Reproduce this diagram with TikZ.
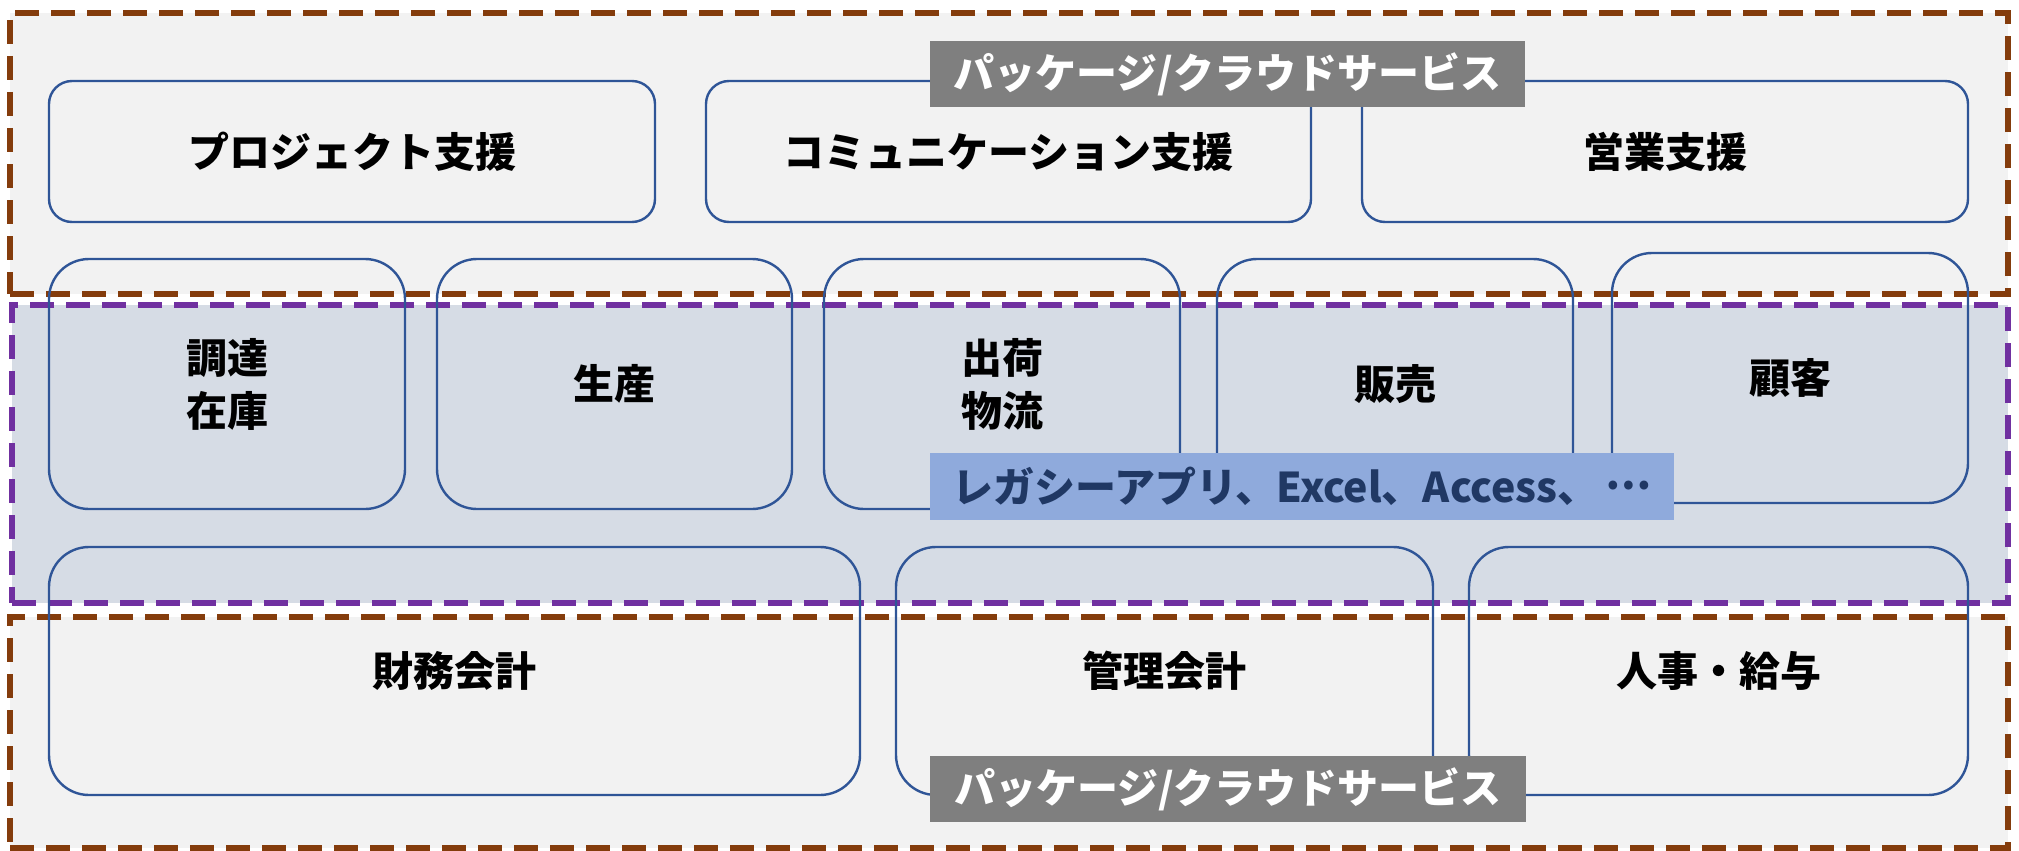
\documentclass[tikz,border=0pt]{standalone}
\usepackage{fontspec}
\setmainfont{Noto Sans CJK JP}
\definecolor{brownline}{HTML}{843C0C}
\definecolor{purpleline}{HTML}{7030A0}
\definecolor{graybg}{HTML}{F2F2F2}
\definecolor{bluebg}{HTML}{D6DCE5}
\definecolor{boxblue}{HTML}{2F5597}
\definecolor{labelgray}{HTML}{7F7F7F}
\definecolor{labelblue}{HTML}{8FAADC}
\definecolor{navytext}{HTML}{203864}
\tikzset{
  region/.style={draw=#1, line width=6pt, dash pattern=on 24pt off 12pt, inner sep=0pt},
  boxbase/.style={draw=boxblue, line width=2.4pt, inner sep=0pt, align=center,
    font=\fontsize{41}{53}\selectfont\bfseries},
  topbox/.style={boxbase, rounded corners=23pt},
  bigbox/.style={boxbase, rounded corners=40pt},
  tag/.style={inner sep=0pt, font=\fontsize{41}{48}\selectfont\bfseries}
}
\begin{document}
\begin{tikzpicture}[x=1pt,y=-1pt]
\useasboundingbox (0,0) rectangle (2019,851);
\fill[white] (0,0) rectangle (2019,851);
% regions
\node[region=brownline, fill=graybg, minimum width=1998pt, minimum height=281pt] (toparea) at (1009,153.5) {};
\node[region=purpleline, fill=bluebg, minimum width=1996pt, minimum height=298pt] (midarea) at (1010,454) {};
\node[region=brownline, fill=graybg, minimum width=1998pt, minimum height=231pt] (botarea) at (1009,732.5) {};
% top row
\node[topbox, minimum width=606pt, minimum height=141pt] (pj) at (352,151.5) {プロジェクト支援};
\node[topbox, minimum width=605pt, minimum height=141pt] (comm) at (1008.5,151.5) {コミュニケーション支援};
\node[topbox, minimum width=606pt, minimum height=141pt] (sales) at (1665,151.5) {営業支援};
% middle row
\node[bigbox, minimum width=356pt, minimum height=250pt] (chotatsu) at (227,384) {調達\\在庫};
\node[bigbox, minimum width=355pt, minimum height=250pt] (seisan) at (614.5,384) {生産};
\node[bigbox, minimum width=356pt, minimum height=250pt] (shukka) at (1002,384) {出荷\\物流};
\node[bigbox, minimum width=356pt, minimum height=250pt] (hanbai) at (1395,384) {販売};
\node[bigbox, minimum width=356pt, minimum height=250pt] (kokyaku) at (1790,378) {顧客};
% bottom row
\node[bigbox, minimum width=811pt, minimum height=248pt] (zaimu) at (454.5,671) {財務会計};
\node[bigbox, minimum width=537pt, minimum height=248pt] (kanri) at (1164.5,671) {管理会計};
\node[bigbox, minimum width=499pt, minimum height=248pt] (jinji) at (1718.5,671) {人事・給与};
% labels
\node[tag, fill=labelgray, text=white, minimum width=595pt, minimum height=66pt] (pkgtop) at (1227.5,74) {パッケージ/クラウドサービス};
\node[tag, fill=labelblue, text=navytext, minimum width=744pt, minimum height=67pt] (legacy) at (1302,486.5) {レガシーアプリ、Excel、Access、\,\raisebox{0.32em}{…}};
\node[tag, fill=labelgray, text=white, minimum width=596pt, minimum height=66pt] (pkgbot) at (1228,789) {パッケージ/クラウドサービス};
\end{tikzpicture}
\end{document}
